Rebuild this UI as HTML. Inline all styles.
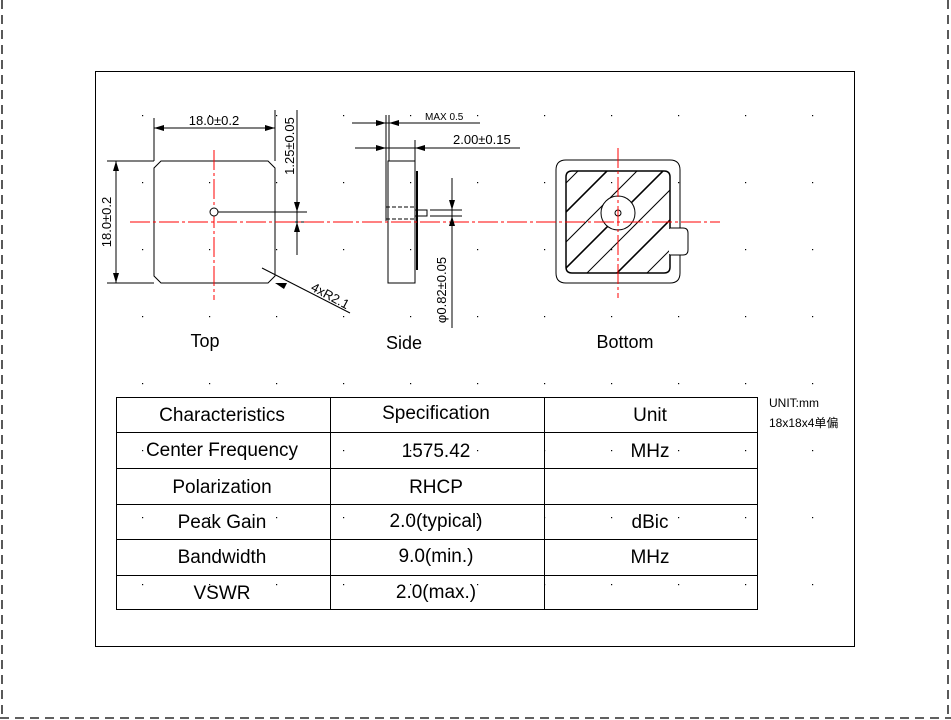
<!DOCTYPE html>
<html><head><meta charset="utf-8"><style>
body{margin:0;width:951px;height:720px;background:#fff;overflow:hidden;font-family:"Liberation Sans","Noto Sans CJK SC",sans-serif}
svg{position:absolute;left:0;top:0}
</style></head><body>
<svg width="951" height="720" viewBox="0 0 951 720" xmlns="http://www.w3.org/2000/svg" font-family="Liberation Sans, Noto Sans CJK SC, sans-serif">
<defs>
<pattern id="dots" x="142" y="115" width="67" height="67" patternUnits="userSpaceOnUse"><rect x="0" y="0" width="1.2" height="1.2" fill="#000"/></pattern>
<clipPath id="hc"><path d="M572,171 H664 Q670,171 670,177 V267 Q670,273 664,273 H572 Q566,273 566,267 V177 Q566,171 572,171 Z"/></clipPath>
</defs>
<g stroke="#000" stroke-width="1.3" stroke-dasharray="9,6" fill="none">
<line x1="2" y1="0" x2="2" y2="720"/><line x1="948" y1="0" x2="948" y2="720"/><line x1="0" y1="718" x2="951" y2="718"/>
</g>
<rect x="95.5" y="71.5" width="759" height="575" fill="url(#dots)" stroke="#000" stroke-width="1"/>
<g stroke="#000" stroke-width="1" fill="none">
<path d="M161,161 H268 L275,168 V276 L268,283 H161 L154,276 V168 Z"/>
<line x1="218" y1="212" x2="307" y2="212"/>
<line x1="275" y1="222" x2="307" y2="222"/>
<line x1="154" y1="118" x2="154" y2="161"/>
<line x1="275" y1="110" x2="275" y2="161"/>
<line x1="154" y1="128" x2="275" y2="128"/>
<line x1="107" y1="161" x2="154" y2="161"/>
<line x1="107" y1="283" x2="154" y2="283"/>
<line x1="116" y1="161" x2="116" y2="283"/>
<line x1="297" y1="110" x2="297" y2="255"/>
<line x1="262" y1="268" x2="350" y2="313"/>
<rect x="388" y="161" width="27" height="122"/>
<line x1="386" y1="115" x2="386" y2="221"/>
<line x1="389" y1="115" x2="389" y2="161"/>
<rect x="415" y="210" width="12" height="6"/>
<line x1="386" y1="207" x2="415" y2="207" stroke-dasharray="4,2"/>
<line x1="386" y1="219" x2="415" y2="219" stroke-dasharray="4,2"/>
<line x1="417" y1="171" x2="417" y2="270" stroke-width="2"/>
<line x1="352" y1="123" x2="480" y2="123"/>
<line x1="355" y1="148" x2="520" y2="148"/>
<line x1="415" y1="140" x2="415" y2="161"/>
<line x1="452" y1="178" x2="452" y2="328"/>
<line x1="430" y1="210" x2="462" y2="210"/>
<line x1="430" y1="216" x2="462" y2="216"/>
<path d="M670,255 H680 V273 Q680,283 670,283 H566 Q556,283 556,273 V170 Q556,160 566,160 H670 Q680,160 680,170 V228 H670"/>
<g clip-path="url(#hc)">
<line x1="560" y1="189" x2="680" y2="69"/>
<line x1="560" y1="218" x2="680" y2="98" stroke-width="1.6"/>
<line x1="560" y1="248" x2="680" y2="128"/>
<line x1="560" y1="274" x2="680" y2="154" stroke-width="1.6"/>
<line x1="560" y1="300" x2="680" y2="180"/>
<line x1="560" y1="330" x2="680" y2="210" stroke-width="1.6"/>
<line x1="560" y1="360" x2="680" y2="240"/>
</g>
<path d="M572,171 H664 Q670,171 670,177 V267 Q670,273 664,273 H572 Q566,273 566,267 V177 Q566,171 572,171 Z" stroke-width="1.5"/>
<path d="M670,228 H683 Q688,228 688,233 V250 Q688,255 683,255 H670" fill="#fff"/>
<line x1="670" y1="229" x2="670" y2="254" stroke="#fff" stroke-width="2"/>
<circle cx="618" cy="213" r="17" fill="#fff"/>
<circle cx="618" cy="213" r="3"/>
</g>
<g stroke="#f00" stroke-width="1" stroke-dasharray="20,3,3,3" fill="none">
<line x1="130" y1="222" x2="720" y2="222"/>
<line x1="214" y1="150" x2="214" y2="300"/>
<line x1="618" y1="148" x2="618" y2="298"/>
</g>
<circle cx="214" cy="212" r="4" fill="#fff" stroke="#000"/>
<g fill="#000">
<path d="M154,128 l10,-3 v6 z"/><path d="M275,128 l-10,-3 v6 z"/>
<path d="M116,161 l-3,10 h6 z"/><path d="M116,283 l-3,-10 h6 z"/>
<path d="M297,212 l-3,-10 h6 z"/><path d="M297,222 l-3,10 h6 z"/>
<path d="M275,283 l9,6 l3,-6 z"/>
<path d="M386,123 l-10,-3 v6 z"/><path d="M389,123 l10,-3 v6 z"/>
<path d="M386,148 l-10,-3 v6 z"/><path d="M415,148 l10,-3 v6 z"/>
<path d="M452,210 l-3,-10 h6 z"/><path d="M452,216 l-3,10 h6 z"/>
</g>
<g font-size="13" fill="#000">
<text x="214" y="125" text-anchor="middle">18.0±0.2</text>
<text transform="translate(111,222) rotate(-90)" text-anchor="middle">18.0±0.2</text>
<text transform="translate(294,146) rotate(-90)" text-anchor="middle">1.25±0.05</text>
<text transform="translate(310,290) rotate(28)">4xR2.1</text>
<text x="425" y="120" font-size="10">MAX 0.5</text>
<text x="453" y="144">2.00±0.15</text>
<text transform="translate(446,290) rotate(-90)" text-anchor="middle">φ0.82±0.05</text>
</g>
<g font-size="18" fill="#000" text-anchor="middle">
<text x="205" y="347">Top</text>
<text x="404" y="349">Side</text>
<text x="625" y="348">Bottom</text>
</g>
<g stroke="#000" stroke-width="1" fill="none">
<rect x="116.5" y="397.5" width="641" height="212"/>
<line x1="116" y1="432.5" x2="757" y2="432.5"/>
<line x1="116" y1="468.5" x2="757" y2="468.5"/>
<line x1="116" y1="504.5" x2="757" y2="504.5"/>
<line x1="116" y1="539.5" x2="757" y2="539.5"/>
<line x1="116" y1="575.5" x2="757" y2="575.5"/>
<line x1="330.5" y1="397" x2="330.5" y2="609"/>
<line x1="544.5" y1="397" x2="544.5" y2="609"/>
</g>
<g font-size="19" fill="#000" text-anchor="middle">
<text x="222" y="421">Characteristics</text><text x="436" y="419">Specification</text><text x="650" y="421">Unit</text>
<text x="222" y="456">Center Frequency</text><text x="436" y="457">1575.42</text><text x="650" y="457">MHz</text>
<text x="222" y="493">Polarization</text><text x="436" y="493">RHCP</text>
<text x="222" y="528">Peak Gain</text><text x="436" y="527">2.0(typical)</text><text x="650" y="528">dBic</text>
<text x="222" y="563">Bandwidth</text><text x="436" y="562">9.0(min.)</text><text x="650" y="563">MHz</text>
<text x="222" y="599">VSWR</text><text x="436" y="598">2.0(max.)</text>
</g>
<g font-size="12" fill="#000">
<text x="769" y="407">UNIT:mm</text>
<text x="769" y="427">18x18x4单偏</text>
</g>
</svg>
</body></html>
